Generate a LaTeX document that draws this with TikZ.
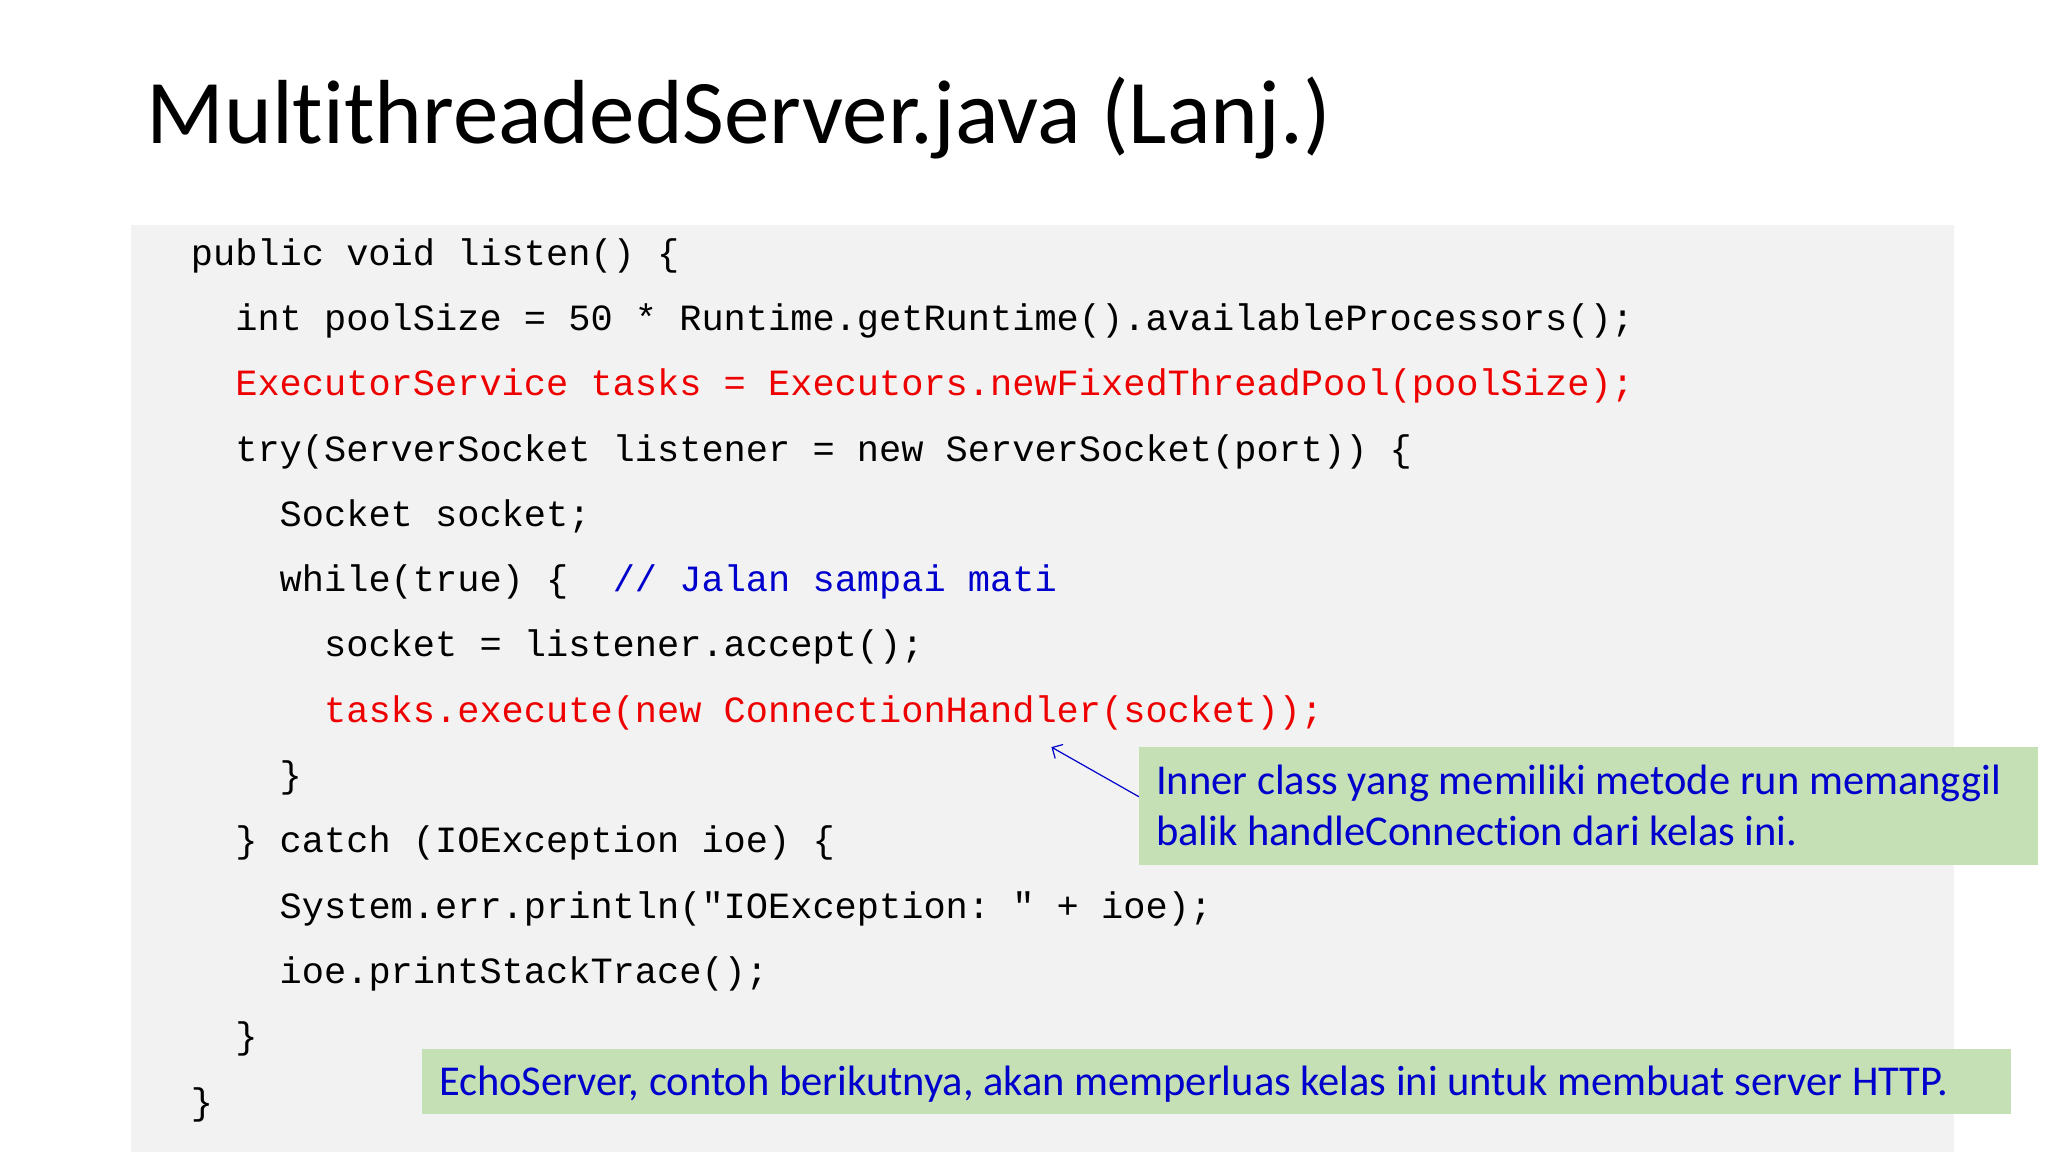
\documentclass[tikz,border=0pt]{standalone}
\usepackage{fontspec}
\usetikzlibrary{arrows.meta}
\setmainfont[Ligatures=NoCommon]{Carlito}
\setmonofont{Liberation Mono}
\definecolor{codebg}{HTML}{F2F2F2}
\definecolor{callg}{HTML}{C5E0B4}
\definecolor{txtblue}{HTML}{0000CC}
\definecolor{cred}{HTML}{EE0000}
\begin{document}
\begin{tikzpicture}[x=1.30612pt,y=-1.30612pt,
  code/.style={anchor=base west,inner sep=0,font=\ttfamily\fontsize{37}{44}\selectfont},
  callout/.style={anchor=base west,inner sep=0,text=txtblue,font=\fontsize{42.5}{50}\selectfont}]
\useasboundingbox (0,0) rectangle (1568,882);
\fill[white] (0,0) rectangle (1568,882);
\node[anchor=base west,inner sep=0,font=\fontsize{91}{100}\selectfont] (title) at (112,110) {MultithreadedServer.java (Lanj.)};
\fill[codebg] (100,172) rectangle (1496,882);
\node[code] (l1) at (146,203) {public void listen() \{};
\node[code] (l2) at (180,253) {int poolSize = 50 * Runtime.getRuntime().availableProcessors();};
\node[code,text=cred] (l3) at (180,303) {ExecutorService tasks = Executors.newFixedThreadPool(poolSize);};
\node[code] (l4) at (180,353) {try(ServerSocket listener = new ServerSocket(port)) \{};
\node[code] (l5) at (214,403) {Socket socket;};
\node[code] (l6) at (214,453) {while(true) \{ \ \textcolor{txtblue}{// Jalan sampai mati}};
\node[code] (l7) at (248,503) {socket = listener.accept();};
\node[code,text=cred] (l8) at (248,553) {tasks.execute(new ConnectionHandler(socket));};
\node[code] (l9) at (214,603) {\}};
\node[code] (l10) at (180,653) {\} catch (IOException ioe) \{};
\node[code] (l11) at (214,703) {System.err.println("IOException: " + ioe);};
\node[code] (l12) at (214,753) {ioe.printStackTrace();};
\node[code] (l13) at (180,803) {\}};
\node[code] (l14) at (146,853) {\}};
\fill[callg] (872,572) rectangle (1560,662);
\node[callout] (c1a) at (885,608) {Inner class yang memiliki metode run memanggil};
\node[callout] (c1b) at (885,647) {balik handleConnection dari kelas ini.};
\coordinate (arrS) at (872,610);
\coordinate (arrE) at (805,572);
\draw[txtblue,line width=1.2pt,-{Straight Barb[length=8pt]}] (arrS) -- (arrE);
\fill[callg] (323,803) rectangle (1540,853);
\node[callout] (c2) at (336,839) {EchoServer, contoh berikutnya, akan memperluas kelas ini untuk membuat server HTTP.};
\end{tikzpicture}
\end{document}
